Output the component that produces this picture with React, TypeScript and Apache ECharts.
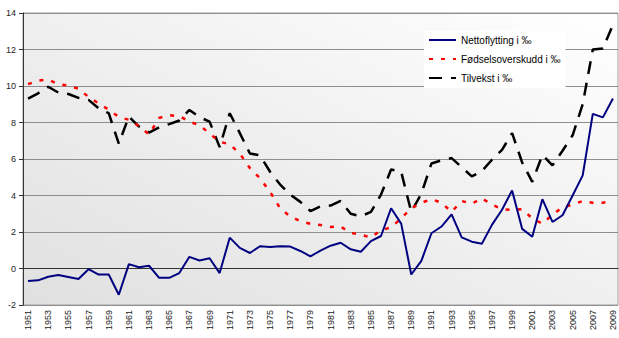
import React, { useEffect, useRef } from "react";
import * as echarts from "echarts";

const years: string[] = [];
for (let y = 1951; y <= 2009; y++) years.push(String(y));

const nettoflytting = [
  -0.69, -0.65, -0.45, -0.36, -0.47, -0.58, -0.04, -0.33, -0.33, -1.44,
  0.24, 0.07, 0.15, -0.51, -0.51, -0.25, 0.64, 0.44, 0.56, -0.25,
  1.69, 1.13, 0.85, 1.22, 1.18, 1.22, 1.2, 0.96, 0.67, 0.98,
  1.25, 1.41, 1.05, 0.92, 1.5, 1.78, 3.3, 2.46, -0.33, 0.42,
  1.93, 2.3, 2.97, 1.71, 1.47, 1.36, 2.39, 3.22, 4.28, 2.17,
  1.74, 3.8, 2.55, 2.92, 4.0, 5.1, 8.47, 8.28, 9.32,
];

const fodselsoverskudd = [
  10.1, 10.3, 10.35, 10.1, 10.02, 9.85, 9.4, 9.05, 8.7, 8.3,
  8.15, 7.8, 7.35, 8.25, 8.4, 8.35, 8.05, 7.85, 7.4, 6.95,
  6.8, 6.3, 5.5, 4.95, 4.2, 3.3, 2.85, 2.6, 2.45, 2.38,
  2.28, 2.3, 1.95, 1.85, 1.7, 2.1, 2.25, 2.75, 3.3, 3.6,
  3.8, 3.6, 3.1, 3.7, 3.55, 3.85, 3.5, 3.25, 3.2, 3.25,
  2.75, 2.45, 2.95, 3.35, 3.5, 3.7, 3.6, 3.6, 3.75,
];

const tilvekst = [
  9.31, 9.6, 9.96, 9.64, 9.56, 9.35, 9.24, 8.78, 8.51, 6.84,
  8.33, 7.78, 7.45, 7.73, 7.91, 8.11, 8.69, 8.29, 8.05, 6.65,
  8.51, 7.42, 6.3, 6.2, 5.3, 4.6, 4.05, 3.65, 3.15, 3.41,
  3.45, 3.7, 3.0, 2.86, 3.1, 4.05, 5.42, 5.3, 3.1, 4.1,
  5.75, 5.93, 6.05, 5.55, 5.05, 5.33, 5.96, 6.5, 7.42, 5.8,
  4.75, 6.22, 5.65, 6.45, 7.3, 9.0, 12.0, 12.05, 13.35,
];

const seriesNames = ["Nettoflytting i ‰", "Fødselsoverskudd i ‰", "Tilvekst i ‰"];

const FONT = "'Liberation Sans', Arial, sans-serif";

export default function App() {
  const ref = useRef<HTMLDivElement>(null);
  useEffect(() => {
    if (!ref.current) return;
    const chart = echarts.init(ref.current, undefined, { renderer: "svg" });
    chart.setOption({
      animation: false,
      backgroundColor: "#ffffff",
      textStyle: { fontFamily: FONT },
      grid: {
        left: 23,
        right: 1,
        top: 13,
        bottom: 33,
        show: true,
        borderColor: "#a0a0a0",
        borderWidth: 1,
        backgroundColor: new echarts.graphic.LinearGradient(0, 1, 1, 0, [
          { offset: 0, color: "#e0e0e0" },
          { offset: 1, color: "#ffffff" },
        ]),
      },
      legend: {
        orient: "vertical",
        left: 424,
        top: 31,
        itemWidth: 27,
        itemHeight: 10,
        itemGap: 9,
        backgroundColor: "#ffffff",
        padding: [4, 5, 5, 4],
        itemStyle: { opacity: 0 },
        textStyle: { fontSize: 10, color: "#000", fontFamily: FONT },
        data: seriesNames,
      },
      xAxis: {
        type: "category",
        data: years,
        boundaryGap: true,
        axisLine: { lineStyle: { color: "#333", width: 1 } },
        axisTick: { interval: 0, length: 4, lineStyle: { color: "#333" } },
        axisLabel: {
          interval: 1,
          rotate: 90,
          fontSize: 9,
          color: "#222",
          margin: 5,
          fontFamily: FONT,
        },
        splitLine: { show: false },
      },
      yAxis: {
        type: "value",
        min: -2,
        max: 14,
        interval: 2,
        axisLine: { show: true, lineStyle: { color: "#333", width: 1 } },
        axisTick: { show: true, length: 4, lineStyle: { color: "#333" } },
        axisLabel: { fontSize: 9, color: "#222", margin: 7, fontFamily: FONT },
        splitLine: { lineStyle: { color: "#8e8e8e", width: 1 } },
      },
      series: [
        {
          name: seriesNames[0],
          type: "line",
          data: nettoflytting,
          symbol: "none",
          lineStyle: { color: "#000080", width: 2 },
          itemStyle: { color: "#000080" },
          z: 4,
        },
        {
          name: seriesNames[1],
          type: "line",
          data: fodselsoverskudd,
          symbol: "none",
          lineStyle: { color: "#ff0000", width: 2.5, type: [4, 8] },
          itemStyle: { color: "#ff0000" },
          z: 3,
        },
        {
          name: seriesNames[2],
          type: "line",
          data: tilvekst,
          symbol: "none",
          lineStyle: { color: "#000000", width: 2.5, type: [13, 9] },
          itemStyle: { color: "#000000" },
          z: 2,
        },
      ],
    });
    return () => chart.dispose();
  }, []);
  return <div ref={ref} style={{ width: 619, height: 338, position: "absolute", left: 0, top: 0 }} />;
}
